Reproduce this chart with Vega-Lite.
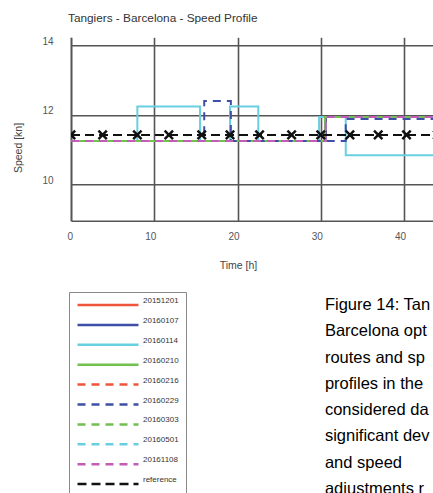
{
  "$schema": "https://vega.github.io/schema/vega-lite/v6.json",
  "width": 362,
  "height": 183.4,
  "autosize": {"type": "none"},
  "padding": {"left": 71, "top": 37.3, "right": 0, "bottom": 272.3},
  "background": "white",
  "title": {
    "text": "Tangiers - Barcelona - Speed Profile",
    "anchor": "start",
    "frame": "group",
    "dx": -3,
    "offset": 3,
    "baseline": "alphabetic",
    "font": "Liberation Sans",
    "fontSize": 11.8,
    "fontWeight": "normal",
    "color": "#333"
  },
  "config": {
    "view": {"stroke": null},
    "font": "Liberation Sans",
    "axis": {
      "domainColor": "#555",
      "domainWidth": 1.6,
      "gridColor": "#555",
      "gridWidth": 1.6,
      "gridOpacity": 1,
      "ticks": false,
      "labelColor": "#555",
      "labelFontSize": 10,
      "titleColor": "#444",
      "titleFontSize": 10.5,
      "titleFontWeight": "normal"
    }
  },
  "resolve": {"axis": {"x": "independent", "y": "independent"}},
  "datasets": {
    "speeds": [
      {"s": "20151201", "t": 0, "v": 11.24}, {"s": "20151201", "t": 30.6, "v": 11.94}, {"s": "20151201", "t": 44, "v": 11.94},
      {"s": "20160107", "t": 0, "v": 11.24}, {"s": "20160107", "t": 30.6, "v": 11.94}, {"s": "20160107", "t": 44, "v": 11.94},
      {"s": "20160114", "t": 0, "v": 11.24}, {"s": "20160114", "t": 7.97, "v": 12.24}, {"s": "20160114", "t": 15.5, "v": 11.24},
      {"s": "20160114", "t": 19.1, "v": 12.24}, {"s": "20160114", "t": 22.5, "v": 11.24}, {"s": "20160114", "t": 29.8, "v": 11.94},
      {"s": "20160114", "t": 33.0, "v": 10.83}, {"s": "20160114", "t": 44, "v": 10.83},
      {"s": "20160210", "t": 0, "v": 11.24}, {"s": "20160210", "t": 30.5, "v": 11.94}, {"s": "20160210", "t": 44, "v": 11.94},
      {"s": "20160216", "t": 0, "v": 11.24}, {"s": "20160216", "t": 30.6, "v": 11.94}, {"s": "20160216", "t": 44, "v": 11.94},
      {"s": "20160229", "t": 0, "v": 11.24}, {"s": "20160229", "t": 16.0, "v": 12.4}, {"s": "20160229", "t": 19.2, "v": 11.24},
      {"s": "20160229", "t": 33.0, "v": 11.88}, {"s": "20160229", "t": 44, "v": 11.88},
      {"s": "20160303", "t": 0, "v": 11.24}, {"s": "20160303", "t": 30.6, "v": 11.94}, {"s": "20160303", "t": 44, "v": 11.94},
      {"s": "20160501", "t": 0, "v": 11.24}, {"s": "20160501", "t": 30.6, "v": 11.94}, {"s": "20160501", "t": 44, "v": 11.94},
      {"s": "20161108", "t": 0, "v": 11.24}, {"s": "20161108", "t": 30.6, "v": 11.94}, {"s": "20161108", "t": 44, "v": 11.94},
      {"s": "reference", "t": 0, "v": 11.42}, {"s": "reference", "t": 3.8, "v": 11.42}, {"s": "reference", "t": 7.97, "v": 11.42},
      {"s": "reference", "t": 11.75, "v": 11.42}, {"s": "reference", "t": 15.7, "v": 11.42}, {"s": "reference", "t": 19.1, "v": 11.42},
      {"s": "reference", "t": 22.65, "v": 11.42}, {"s": "reference", "t": 26.5, "v": 11.42}, {"s": "reference", "t": 30.0, "v": 11.42},
      {"s": "reference", "t": 33.5, "v": 11.42}, {"s": "reference", "t": 36.9, "v": 11.42}, {"s": "reference", "t": 40.3, "v": 11.42},
      {"s": "reference", "t": 44, "v": 11.42}
    ],
    "caption": [
      {"text": "Figure 14: Tan\nBarcelona opt\nroutes and sp\nprofiles in the\nconsidered da\nsignificant dev\nand speed\nadjustments r"}
    ]
  },
  "layer": [
    {
      "data": {"name": "speeds"},
      "mark": {"type": "line", "interpolate": "step-after", "strokeWidth": 2, "clip": true},
      "encoding": {
        "x": {
          "field": "t", "type": "quantitative",
          "scale": {"domain": [0, 43.48], "nice": false, "zero": false},
          "axis": {
            "values": [0, 10, 20, 30, 40], "title": "Time [h]",
            "labelOffset": -4, "labelPadding": 11, "labelBaseline": "top",
            "titleX": 167, "titleY": 44.3, "titleAlign": "center", "titleBaseline": "middle"
          }
        },
        "y": {
          "field": "v", "type": "quantitative",
          "scale": {"domain": [8.94, 14.24], "nice": false, "zero": false},
          "axis": {
            "values": [10, 12, 14], "title": "Speed [kn]",
            "labelPadding": 18, "labelOffset": -4,
            "titleX": -53, "titleY": 110.2, "titleAlign": "center", "titleBaseline": "middle", "titleAngle": -90
          }
        },
        "color": {
          "field": "s", "type": "nominal",
          "scale": {
            "domain": ["20151201", "20160107", "20160114", "20160210", "20160216", "20160229", "20160303", "20160501", "20161108", "reference"],
            "range": ["#ef553a", "#3d4fa6", "#67cfe0", "#72c04d", "#ef553a", "#3d4fa6", "#72c04d", "#67cfe0", "#c25cb6", "#111111"]
          },
          "legend": {
            "orient": "none", "legendX": -2, "legendY": 254.7,
            "title": null, "symbolType": "stroke", "symbolSize": 3721, "symbolStrokeWidth": 2.5,
            "clipHeight": 12, "rowPadding": 5.9, "padding": 7,
            "labelFont": "Liberation Sans", "labelFontSize": 8, "labelColor": "#333", "labelBaseline": "bottom", "labelOffset": 3,
            "labelExpr": "datum.label + '\u00a0\u00a0\u00a0\u00a0\u00a0\u00a0\u00a0\u00a0\u00a0\u00a0\u00a0\u00a0\u00a0'", "labelLimit": 300,
            "strokeColor": "#888", "fillColor": "white"
          }
        },
        "strokeDash": {
          "field": "s", "type": "nominal",
          "scale": {
            "domain": ["20151201", "20160107", "20160114", "20160210", "20160216", "20160229", "20160303", "20160501", "20161108", "reference"],
            "range": [[1, 0], [1, 0], [1, 0], [1, 0], [8, 6], [8, 6], [8, 6], [8, 6], [8, 6], [9, 5]]
          }
        }
      }
    },
    {
      "data": {"name": "speeds"},
      "transform": [{"filter": "datum.s === 'reference'"}],
      "mark": {
        "type": "point", "shape": "M-1,-1L1,1M1,-1L-1,1", "size": 70,
        "filled": false, "stroke": "#111111", "strokeWidth": 2.5, "opacity": 1, "clip": true
      },
      "encoding": {
        "x": {"field": "t", "type": "quantitative", "axis": null},
        "y": {"field": "v", "type": "quantitative", "axis": null}
      }
    },
    {
      "mark": {"type": "rule", "color": "#555", "strokeWidth": 1.6},
      "encoding": {"y": {"datum": 14.24, "type": "quantitative", "axis": null}}
    },
    {
      "data": {"name": "caption"},
      "mark": {
        "type": "text", "lineBreak": "\n", "lineHeight": 26.3, "align": "left", "baseline": "alphabetic",
        "font": "Liberation Sans", "fontSize": 16.5, "color": "#000000", "clip": false
      },
      "encoding": {
        "x": {"datum": 30.5, "type": "quantitative", "axis": null},
        "y": {"datum": 6.36, "type": "quantitative", "axis": null},
        "text": {"field": "text", "type": "nominal"}
      }
    }
  ]
}
